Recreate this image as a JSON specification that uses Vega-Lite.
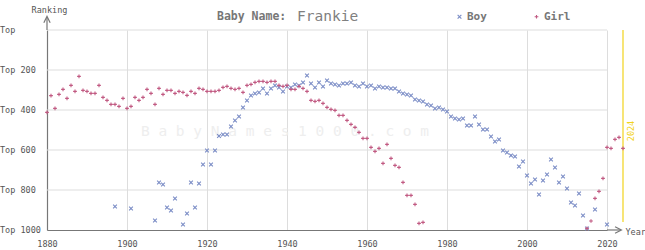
{
  "$schema": "https://vega.github.io/schema/vega-lite/v6.json",
  "width": 560,
  "height": 200,
  "autosize": "none",
  "padding": {"left": 47, "top": 30, "right": 38, "bottom": 20},
  "background": "white",
  "config": {"view": {"stroke": null}},
  "datasets": {
    "ylabels": [{"rank": 0, "label": "Top"}, {"rank": 200, "label": "Top 200"}, {"rank": 400, "label": "Top 400"}, {"rank": 600, "label": "Top 600"}, {"rank": 800, "label": "Top 800"}, {"rank": 1000, "label": "Top 1000"}],
    "grid": [{"rank": 0}, {"rank": 200}, {"rank": 400}, {"rank": 600}, {"rank": 800}],
    "one": [{"k": 1}]
  },
  "data": {"values": [
    {"sex":"Boy","year":1897,"rank":882},{"sex":"Boy","year":1901,"rank":892},{"sex":"Boy","year":1907,"rank":952},{"sex":"Boy","year":1908,"rank":762},{"sex":"Boy","year":1909,"rank":772},{"sex":"Boy","year":1910,"rank":887},{"sex":"Boy","year":1911,"rank":902},{"sex":"Boy","year":1912,"rank":842},{"sex":"Boy","year":1914,"rank":972},{"sex":"Boy","year":1915,"rank":917},{"sex":"Boy","year":1916,"rank":762},{"sex":"Boy","year":1917,"rank":887},{"sex":"Boy","year":1918,"rank":767},{"sex":"Boy","year":1919,"rank":672},{"sex":"Boy","year":1920,"rank":602},{"sex":"Boy","year":1921,"rank":672},{"sex":"Boy","year":1922,"rank":602},{"sex":"Boy","year":1923,"rank":530},{"sex":"Boy","year":1924,"rank":522},{"sex":"Boy","year":1925,"rank":522},{"sex":"Boy","year":1926,"rank":482},{"sex":"Boy","year":1927,"rank":452},{"sex":"Boy","year":1928,"rank":432},{"sex":"Boy","year":1929,"rank":387},{"sex":"Boy","year":1930,"rank":352},{"sex":"Boy","year":1931,"rank":327},{"sex":"Boy","year":1932,"rank":317},{"sex":"Boy","year":1933,"rank":312},{"sex":"Boy","year":1934,"rank":292},{"sex":"Boy","year":1935,"rank":317},{"sex":"Boy","year":1936,"rank":292},{"sex":"Boy","year":1937,"rank":277},{"sex":"Boy","year":1938,"rank":287},{"sex":"Boy","year":1939,"rank":307},{"sex":"Boy","year":1940,"rank":282},{"sex":"Boy","year":1941,"rank":287},{"sex":"Boy","year":1942,"rank":272},{"sex":"Boy","year":1943,"rank":277},{"sex":"Boy","year":1944,"rank":262},{"sex":"Boy","year":1945,"rank":227},{"sex":"Boy","year":1946,"rank":267},{"sex":"Boy","year":1947,"rank":287},{"sex":"Boy","year":1948,"rank":262},{"sex":"Boy","year":1949,"rank":282},{"sex":"Boy","year":1950,"rank":252},{"sex":"Boy","year":1951,"rank":267},{"sex":"Boy","year":1952,"rank":272},{"sex":"Boy","year":1953,"rank":277},{"sex":"Boy","year":1954,"rank":267},{"sex":"Boy","year":1955,"rank":267},{"sex":"Boy","year":1956,"rank":262},{"sex":"Boy","year":1957,"rank":277},{"sex":"Boy","year":1958,"rank":282},{"sex":"Boy","year":1959,"rank":267},{"sex":"Boy","year":1960,"rank":282},{"sex":"Boy","year":1961,"rank":277},{"sex":"Boy","year":1962,"rank":292},{"sex":"Boy","year":1963,"rank":282},{"sex":"Boy","year":1964,"rank":287},{"sex":"Boy","year":1965,"rank":287},{"sex":"Boy","year":1966,"rank":292},{"sex":"Boy","year":1967,"rank":292},{"sex":"Boy","year":1968,"rank":307},{"sex":"Boy","year":1969,"rank":317},{"sex":"Boy","year":1970,"rank":322},{"sex":"Boy","year":1971,"rank":327},{"sex":"Boy","year":1972,"rank":347},{"sex":"Boy","year":1973,"rank":352},{"sex":"Boy","year":1974,"rank":357},{"sex":"Boy","year":1975,"rank":372},{"sex":"Boy","year":1976,"rank":377},{"sex":"Boy","year":1977,"rank":392},{"sex":"Boy","year":1978,"rank":387},{"sex":"Boy","year":1979,"rank":397},{"sex":"Boy","year":1980,"rank":407},{"sex":"Boy","year":1981,"rank":432},{"sex":"Boy","year":1982,"rank":442},{"sex":"Boy","year":1983,"rank":447},{"sex":"Boy","year":1984,"rank":442},{"sex":"Boy","year":1985,"rank":477},{"sex":"Boy","year":1986,"rank":477},{"sex":"Boy","year":1987,"rank":432},{"sex":"Boy","year":1988,"rank":472},{"sex":"Boy","year":1989,"rank":497},{"sex":"Boy","year":1990,"rank":497},{"sex":"Boy","year":1991,"rank":532},{"sex":"Boy","year":1992,"rank":557},{"sex":"Boy","year":1993,"rank":547},{"sex":"Boy","year":1994,"rank":602},{"sex":"Boy","year":1995,"rank":612},{"sex":"Boy","year":1996,"rank":627},{"sex":"Boy","year":1997,"rank":632},{"sex":"Boy","year":1998,"rank":682},{"sex":"Boy","year":1999,"rank":657},{"sex":"Boy","year":2000,"rank":727},{"sex":"Boy","year":2001,"rank":767},{"sex":"Boy","year":2002,"rank":747},{"sex":"Boy","year":2003,"rank":822},{"sex":"Boy","year":2004,"rank":752},{"sex":"Boy","year":2005,"rank":722},{"sex":"Boy","year":2006,"rank":647},{"sex":"Boy","year":2007,"rank":687},{"sex":"Boy","year":2008,"rank":762},{"sex":"Boy","year":2009,"rank":732},{"sex":"Boy","year":2010,"rank":792},{"sex":"Boy","year":2011,"rank":862},{"sex":"Boy","year":2012,"rank":877},{"sex":"Boy","year":2013,"rank":817},{"sex":"Boy","year":2014,"rank":927},{"sex":"Boy","year":2015,"rank":992},{"sex":"Boy","year":2017,"rank":897},{"sex":"Boy","year":2020,"rank":972},
    {"sex":"Girl","year":1880,"rank":412},{"sex":"Girl","year":1881,"rank":328},{"sex":"Girl","year":1882,"rank":392},{"sex":"Girl","year":1883,"rank":322},{"sex":"Girl","year":1884,"rank":297},{"sex":"Girl","year":1885,"rank":342},{"sex":"Girl","year":1886,"rank":277},{"sex":"Girl","year":1887,"rank":307},{"sex":"Girl","year":1888,"rank":232},{"sex":"Girl","year":1889,"rank":302},{"sex":"Girl","year":1890,"rank":307},{"sex":"Girl","year":1891,"rank":317},{"sex":"Girl","year":1892,"rank":317},{"sex":"Girl","year":1893,"rank":277},{"sex":"Girl","year":1894,"rank":337},{"sex":"Girl","year":1895,"rank":352},{"sex":"Girl","year":1896,"rank":372},{"sex":"Girl","year":1897,"rank":372},{"sex":"Girl","year":1898,"rank":382},{"sex":"Girl","year":1899,"rank":342},{"sex":"Girl","year":1900,"rank":392},{"sex":"Girl","year":1901,"rank":382},{"sex":"Girl","year":1902,"rank":337},{"sex":"Girl","year":1903,"rank":352},{"sex":"Girl","year":1904,"rank":337},{"sex":"Girl","year":1905,"rank":297},{"sex":"Girl","year":1906,"rank":317},{"sex":"Girl","year":1907,"rank":372},{"sex":"Girl","year":1908,"rank":292},{"sex":"Girl","year":1909,"rank":322},{"sex":"Girl","year":1910,"rank":302},{"sex":"Girl","year":1911,"rank":302},{"sex":"Girl","year":1912,"rank":317},{"sex":"Girl","year":1913,"rank":307},{"sex":"Girl","year":1914,"rank":312},{"sex":"Girl","year":1915,"rank":327},{"sex":"Girl","year":1916,"rank":307},{"sex":"Girl","year":1917,"rank":317},{"sex":"Girl","year":1918,"rank":292},{"sex":"Girl","year":1919,"rank":297},{"sex":"Girl","year":1920,"rank":307},{"sex":"Girl","year":1921,"rank":307},{"sex":"Girl","year":1922,"rank":307},{"sex":"Girl","year":1923,"rank":302},{"sex":"Girl","year":1924,"rank":287},{"sex":"Girl","year":1925,"rank":282},{"sex":"Girl","year":1926,"rank":292},{"sex":"Girl","year":1927,"rank":297},{"sex":"Girl","year":1928,"rank":292},{"sex":"Girl","year":1929,"rank":312},{"sex":"Girl","year":1930,"rank":277},{"sex":"Girl","year":1931,"rank":272},{"sex":"Girl","year":1932,"rank":262},{"sex":"Girl","year":1933,"rank":257},{"sex":"Girl","year":1934,"rank":257},{"sex":"Girl","year":1935,"rank":262},{"sex":"Girl","year":1936,"rank":257},{"sex":"Girl","year":1937,"rank":257},{"sex":"Girl","year":1938,"rank":277},{"sex":"Girl","year":1939,"rank":282},{"sex":"Girl","year":1940,"rank":277},{"sex":"Girl","year":1941,"rank":297},{"sex":"Girl","year":1942,"rank":297},{"sex":"Girl","year":1943,"rank":282},{"sex":"Girl","year":1944,"rank":292},{"sex":"Girl","year":1945,"rank":307},{"sex":"Girl","year":1946,"rank":352},{"sex":"Girl","year":1947,"rank":357},{"sex":"Girl","year":1948,"rank":352},{"sex":"Girl","year":1949,"rank":367},{"sex":"Girl","year":1950,"rank":387},{"sex":"Girl","year":1951,"rank":397},{"sex":"Girl","year":1952,"rank":402},{"sex":"Girl","year":1953,"rank":427},{"sex":"Girl","year":1954,"rank":427},{"sex":"Girl","year":1955,"rank":452},{"sex":"Girl","year":1956,"rank":472},{"sex":"Girl","year":1957,"rank":487},{"sex":"Girl","year":1958,"rank":512},{"sex":"Girl","year":1959,"rank":542},{"sex":"Girl","year":1960,"rank":542},{"sex":"Girl","year":1961,"rank":587},{"sex":"Girl","year":1962,"rank":607},{"sex":"Girl","year":1963,"rank":592},{"sex":"Girl","year":1964,"rank":667},{"sex":"Girl","year":1965,"rank":572},{"sex":"Girl","year":1966,"rank":642},{"sex":"Girl","year":1967,"rank":677},{"sex":"Girl","year":1968,"rank":687},{"sex":"Girl","year":1969,"rank":762},{"sex":"Girl","year":1970,"rank":827},{"sex":"Girl","year":1971,"rank":827},{"sex":"Girl","year":1972,"rank":872},{"sex":"Girl","year":1973,"rank":967},{"sex":"Girl","year":1974,"rank":962},{"sex":"Girl","year":2015,"rank":992},{"sex":"Girl","year":2016,"rank":955},{"sex":"Girl","year":2017,"rank":842},{"sex":"Girl","year":2018,"rank":807},{"sex":"Girl","year":2019,"rank":742},{"sex":"Girl","year":2020,"rank":587},{"sex":"Girl","year":2021,"rank":592},{"sex":"Girl","year":2022,"rank":547},{"sex":"Girl","year":2023,"rank":537},{"sex":"Girl","year":2024,"rank":592}
  ]},
  "layer": [
    {
      "data": {"name": "one"},
      "mark": {"type": "text", "text": "B a b y N a m e s 1 0 0 0 . c o m", "font": "DejaVu Sans Mono", "fontSize": 14.5, "color": "#eeeeee", "align": "center", "baseline": "middle"},
      "encoding": {"x": {"datum": 1939.5}, "y": {"datum": 510}}
    },
    {
      "data": {"name": "grid"},
      "mark": {"type": "rule", "color": "#dddddd", "strokeWidth": 1},
      "encoding": {
        "y": {"field": "rank", "type": "quantitative"},
        "x": {"datum": 1880},
        "x2": {"datum": 2020}
      }
    },
    {
      "data": {"name": "ylabels"},
      "mark": {"type": "text", "font": "DejaVu Sans Mono", "fontSize": 8.5, "color": "#555555", "align": "left", "baseline": "middle", "dx": -47},
      "encoding": {
        "y": {"field": "rank", "type": "quantitative"},
        "x": {"datum": 1880},
        "text": {"field": "label"}
      }
    },
    {
      "data": {"name": "one"},
      "mark": {"type": "rule", "color": "#f2d31b", "strokeWidth": 1.2},
      "encoding": {"x": {"datum": 2024}, "y": {"datum": 0}, "y2": {"datum": 960}}
    },
    {
      "data": {"name": "one"},
      "mark": {"type": "text", "text": "2024", "font": "DejaVu Sans Mono", "fontSize": 8.5, "color": "#f2d31b", "angle": 270, "align": "center", "baseline": "middle", "dy": 8},
      "encoding": {"x": {"datum": 2024}, "y": {"datum": 505}}
    },
    {
      "data": {"name": "one"},
      "mark": {"type": "rule", "color": "#777777", "strokeWidth": 1.2},
      "encoding": {"x": {"datum": 1880}, "y": {"datum": -65}, "y2": {"datum": 0}}
    },
    {
      "data": {"name": "one"},
      "mark": {"type": "rule", "color": "#777777", "strokeWidth": 1.2},
      "encoding": {"x": {"datum": 2020}, "x2": {"datum": 2023.5}, "y": {"datum": 1000}}
    },
    {
      "data": {"name": "one"},
      "mark": {"type": "point", "shape": "M-1,1L0,-1L1,1", "filled": false, "stroke": "#777777", "strokeWidth": 1.2, "size": 40, "opacity": 1},
      "encoding": {"x": {"datum": 1880}, "y": {"datum": -52}}
    },
    {
      "data": {"name": "one"},
      "mark": {"type": "point", "shape": "M-1,-1L1,0L-1,1", "filled": false, "stroke": "#777777", "strokeWidth": 1.2, "size": 40, "opacity": 1},
      "encoding": {"x": {"datum": 2022.8}, "y": {"datum": 1000}}
    },
    {
      "mark": {"type": "point", "filled": false, "strokeWidth": 1.1, "size": 14, "opacity": 1},
      "encoding": {
        "x": {"field": "year", "type": "quantitative",
          "scale": {"domain": [1880, 2020], "nice": false, "zero": false},
          "axis": {"values": [1880, 1900, 1920, 1940, 1960, 1980, 2000, 2020], "format": "d", "grid": true, "gridColor": "#dddddd", "gridWidth": 1, "domainColor": "#777777", "domainWidth": 1.2, "ticks": false, "tickSize": 0, "labelFont": "DejaVu Sans Mono", "labelFontSize": 8.5, "labelColor": "#555555", "labelPadding": 13, "labelBaseline": "middle", "labelFlush": false, "labelOverlap": false, "labelBound": false,
            "title": "Year", "titleX": 578, "titleY": 1, "titleAlign": "left", "titleBaseline": "middle", "titleFont": "DejaVu Sans Mono", "titleFontWeight": "normal", "titleFontSize": 8.5, "titleColor": "#555555"}},
        "y": {"field": "rank", "type": "quantitative",
          "scale": {"domain": [0, 1000], "reverse": true, "nice": false, "zero": false},
          "axis": {"values": [0, 200, 400, 600, 800, 1000], "labels": false, "grid": false, "domainColor": "#777777", "domainWidth": 1.2, "ticks": false, "tickSize": 0,
            "title": "Ranking", "titleAngle": 0, "titleX": 2, "titleY": -21, "titleAlign": "center", "titleBaseline": "middle", "titleFont": "DejaVu Sans Mono", "titleFontWeight": "normal", "titleFontSize": 8.5, "titleColor": "#555555"}},
        "color": {"field": "sex", "type": "nominal",
          "scale": {"domain": ["Boy", "Girl"], "range": ["#7b8dc6", "#c15a82"]},
          "legend": {"title": null, "orient": "none", "legendX": 407, "legendY": -19, "direction": "horizontal", "labelFont": "DejaVu Sans Mono", "labelFontWeight": "bold", "labelFontSize": 11, "labelColor": "#777777", "symbolSize": 14, "symbolStrokeWidth": 1.1, "columnPadding": 44, "labelOffset": 2}},
        "shape": {"field": "sex", "type": "nominal",
          "scale": {"domain": ["Boy", "Girl"], "range": ["M-1,-1L1,1M-1,1L1,-1", "M-1,0L1,0M0,-1L0,1"]},
          "legend": {"title": null, "orient": "none", "legendX": 407, "legendY": -19, "direction": "horizontal", "labelFont": "DejaVu Sans Mono", "labelFontWeight": "bold", "labelFontSize": 11, "labelColor": "#777777", "symbolSize": 14, "symbolStrokeWidth": 1.1, "columnPadding": 44, "labelOffset": 2}},
        "order": {"field": "sex", "type": "nominal"}
      }
    },
    {
      "data": {"name": "one"},
      "mark": {"type": "text", "text": "Baby Name:", "font": "DejaVu Sans Mono", "fontWeight": "bold", "fontSize": 11.5, "color": "#777777", "align": "left", "baseline": "middle"},
      "encoding": {"x": {"datum": 1922.5}, "y": {"datum": -65}}
    },
    {
      "data": {"name": "one"},
      "mark": {"type": "text", "text": "Frankie", "font": "DejaVu Sans Mono", "fontWeight": "normal", "fontSize": 14.5, "color": "#808080", "align": "left", "baseline": "middle"},
      "encoding": {"x": {"datum": 1942.5}, "y": {"datum": -65}}
    }
  ]
}
